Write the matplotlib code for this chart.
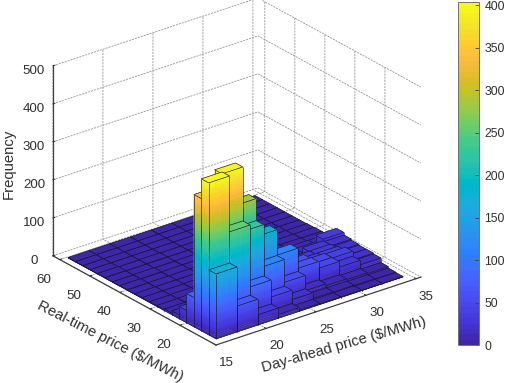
import numpy as np
import matplotlib
matplotlib.use("Agg")
import matplotlib.pyplot as plt
from matplotlib.colors import ListedColormap, Normalize
from matplotlib.cm import ScalarMappable
from mpl_toolkits.mplot3d import proj3d
from mpl_toolkits.mplot3d.art3d import Poly3DCollection, Line3DCollection

plt.rcParams['font.family'] = ['Liberation Sans', 'DejaVu Sans']

# Frequency per bin: one row per day-ahead bin, one column per real-time bin
freq_da_0 = [171, 400, 348, 77, 32, 10, 4, 3, 2, 2, 2, 1, 2, 1, 1, 2, 1, 1, 1, 1]
freq_da_1 = [68, 253, 395, 180, 40, 12, 6, 4, 3, 2, 2, 2, 1, 2, 1, 1, 1, 1, 1, 1]
freq_da_2 = [27, 90, 225, 283, 60, 15, 8, 5, 3, 3, 2, 2, 2, 1, 1, 2, 1, 1, 1, 1]
freq_da_3 = [10, 45, 115, 183, 70, 20, 8, 6, 4, 3, 3, 2, 2, 2, 1, 1, 1, 1, 1, 1]
freq_da_4 = [3, 20, 55, 116, 50, 25, 12, 8, 5, 4, 3, 2, 2, 1, 2, 1, 1, 1, 1, 1]
freq_da_5 = [2, 5, 15, 63, 60, 40, 20, 10, 7, 5, 3, 3, 2, 2, 1, 1, 1, 1, 1, 1]
freq_da_6 = [2, 4, 10, 45, 45, 35, 30, 12, 10, 5, 4, 3, 2, 1, 2, 1, 1, 1, 1, 1]
freq_da_7 = [1, 3, 8, 30, 43, 35, 30, 28, 15, 8, 4, 3, 2, 2, 1, 1, 1, 1, 1, 1]
freq_da_8 = [1, 2, 6, 18, 20, 20, 22, 25, 32, 8, 3, 3, 2, 1, 1, 1, 1, 1, 1, 1]
freq = np.array([freq_da_0, freq_da_1, freq_da_2, freq_da_3, freq_da_4,
                 freq_da_5, freq_da_6, freq_da_7, freq_da_8], dtype=float)

da_edges = np.linspace(15.7, 34.4, 10)
rt_edges = np.linspace(10.3, 59.6, 21)
da_ticks = [15, 20, 25, 30, 35]
rt_ticks = [20, 30, 40, 50, 60]
z_ticks = [0, 100, 200, 300, 400, 500]
cbar_ticks = [0, 50, 100, 150, 200, 250, 300, 350, 400]

parula = ListedColormap([
 (0.2422,0.1504,0.6603),(0.2504,0.1650,0.7076),(0.2578,0.1818,0.7511),(0.2647,0.1978,0.7952),
 (0.2706,0.2147,0.8364),(0.2751,0.2342,0.8710),(0.2783,0.2559,0.8991),(0.2803,0.2782,0.9221),
 (0.2813,0.3006,0.9414),(0.2810,0.3228,0.9579),(0.2795,0.3447,0.9717),(0.2760,0.3667,0.9829),
 (0.2699,0.3892,0.9906),(0.2602,0.4123,0.9952),(0.2440,0.4358,0.9988),(0.2206,0.4603,0.9973),
 (0.1963,0.4847,0.9892),(0.1834,0.5074,0.9798),(0.1786,0.5289,0.9682),(0.1764,0.5499,0.9520),
 (0.1687,0.5703,0.9359),(0.1540,0.5902,0.9218),(0.1460,0.6091,0.9079),(0.1380,0.6276,0.8973),
 (0.1248,0.6459,0.8883),(0.1113,0.6635,0.8763),(0.0952,0.6798,0.8598),(0.0689,0.6948,0.8394),
 (0.0297,0.7082,0.8163),(0.0036,0.7203,0.7917),(0.0067,0.7312,0.7660),(0.0433,0.7411,0.7394),
 (0.0964,0.7500,0.7120),(0.1408,0.7584,0.6842),(0.1717,0.7670,0.6554),(0.1938,0.7758,0.6251),
 (0.2161,0.7843,0.5923),(0.2470,0.7918,0.5567),(0.2906,0.7973,0.5188),(0.3406,0.8008,0.4789),
 (0.3909,0.8029,0.4354),(0.4456,0.8024,0.3909),(0.5044,0.7993,0.3480),(0.5616,0.7942,0.3045),
 (0.6174,0.7876,0.2612),(0.6720,0.7793,0.2227),(0.7242,0.7698,0.1910),(0.7738,0.7598,0.1646),
 (0.8203,0.7498,0.1535),(0.8634,0.7406,0.1596),(0.9035,0.7330,0.1774),(0.9393,0.7288,0.2100),
 (0.9728,0.7298,0.2394),(0.9956,0.7434,0.2371),(0.9970,0.7659,0.2199),(0.9952,0.7861,0.1999),
 (0.9892,0.8135,0.1885),(0.9786,0.8386,0.1766),(0.9676,0.8639,0.1643),(0.9610,0.8890,0.1537),
 (0.9597,0.9135,0.1423),(0.9628,0.9373,0.1265),(0.9691,0.9606,0.1064),(0.9769,0.9839,0.0805)])
norm = Normalize(0, 404)

W, H = 505, 383
TXT = '#303030'
fig = plt.figure(figsize=(W/100, H/100), dpi=100, facecolor='white')
ax = fig.add_axes([0, 0, 1, 1], projection='3d', proj_type='ortho', computed_zorder=False)
ax.patch.set_alpha(0)
ax.view_init(elev=25.2, azim=-127.9)
ax.set_box_aspect((259.8, 265.5, 210))
ax.set_xlim(15, 35.5)
ax.set_ylim(8, 62.3)
ax.set_zlim(0, 500)


def px(x, y, z):
    a, b, _ = proj3d.proj_transform(x, y, z, ax.get_proj())
    return ax.transData.transform((a, b))


# Fit the orthographic box to the reference: front corner and horizontal span
S = 383.0
cx, cy = W/2, H/2
for _ in range(3):
    ax.set_position([(cx-S/2)/W, (cy-S/2)/H, S/W, S/H])
    ax.apply_aspect()
    fig.canvas.draw()
    F = px(15, 8, 0)
    R = px(35.5, 8, 0)
    L = px(15, 62.3, 0)
    S *= (421-53)/(R[0]-L[0])
    ax.set_position([(cx-S/2)/W, (cy-S/2)/H, S/W, S/H])
    ax.apply_aspect()
    F = px(15, 8, 0)
    cx += 216-F[0]
    cy += (H-345)-F[1]
ax.set_position([(cx-S/2)/W, (cy-S/2)/H, S/W, S/H])

# Walls and grid
for axis in (ax.xaxis, ax.yaxis, ax.zaxis):
    axis.set_pane_color((1, 1, 1, 0))
    axis.pane.set_edgecolor((1, 1, 1, 0))
    axis.line.set_color('#404040')
    axis.line.set_linewidth(0.9)
    axis._axinfo['grid'].update(color='#959595', linewidth=0.6, linestyle=(0, (2.5, 1.2)))
    axis._axinfo['tick'].update(inward_factor=0.0, outward_factor=0.12)
    axis._axinfo['tick']['linewidth'] = {True: 0.7, False: 0.5}
ax.set_xticks(da_ticks)
ax.set_yticks(rt_ticks)
ax.set_zticks(z_ticks)
ax.tick_params(axis='x', labelsize=9.6, colors=TXT, pad=2)
ax.tick_params(axis='y', labelsize=9.6, colors=TXT, pad=4)
ax.tick_params(axis='z', labelsize=9.6, colors=TXT, pad=0)
for lbl in ax.xaxis.get_ticklabels():
    lbl.set_va('center')
for lbl in ax.yaxis.get_ticklabels():
    lbl.set_va('center')


def label(text, x_px, y_px, angle):
    fig.text(x_px/W, 1-y_px/H, text, fontsize=10.7, color=TXT, rotation=angle,
             ha='center', va='center', rotation_mode='anchor')


label('Day-ahead price ($/MWh)', 344, 345, 16)
label('Real-time price ($/MWh)', 110, 341, -27)
label('Frequency', 9, 164, 90)

# Bars, back to front
EDGE = '#14142a'
order = 10
for i in range(freq.shape[0]-1, -1, -1):
    for j in range(freq.shape[1]-1, -1, -1):
        x0, x1 = da_edges[i], da_edges[i+1]
        y0, y1 = rt_edges[j], rt_edges[j+1]
        h = freq[i, j]
        levels = np.linspace(0, h, max(2, int(np.ceil(h/5)))+1)
        polys, cols = [], []
        for a, b in zip(levels[:-1], levels[1:]):
            c = parula(norm((a+b)/2))
            polys.append([(x0, y0, a), (x1, y0, a), (x1, y0, b), (x0, y0, b)])
            cols.append(c)
            polys.append([(x0, y0, a), (x0, y1, a), (x0, y1, b), (x0, y0, b)])
            cols.append(c)
        polys.append([(x0, y0, h), (x1, y0, h), (x1, y1, h), (x0, y1, h)])
        cols.append(parula(norm(h)))
        pc = Poly3DCollection(polys, facecolors=cols, edgecolors=cols, linewidths=0.3)
        pc.set_zorder(order)
        ax.add_collection3d(pc, autolim=False)
        segs = [[(x0, y0, h), (x1, y0, h)], [(x1, y0, h), (x1, y1, h)],
                [(x1, y1, h), (x0, y1, h)], [(x0, y1, h), (x0, y0, h)],
                [(x0, y0, 0), (x0, y0, h)], [(x1, y0, 0), (x1, y0, h)],
                [(x0, y1, 0), (x0, y1, h)],
                [(x0, y0, 0), (x1, y0, 0)], [(x0, y0, 0), (x0, y1, 0)]]
        lc = Line3DCollection(segs, colors=EDGE, linewidths=0.45)
        lc.set_zorder(order+1)
        ax.add_collection3d(lc, autolim=False)
        order += 2
ax.set_xlim(15, 35.5)
ax.set_ylim(8, 62.3)
ax.set_zlim(0, 500)

# Colour bar
cax = fig.add_axes([458/W, (H-345)/H, 21/W, 343/H])
cb = fig.colorbar(ScalarMappable(norm=norm, cmap=parula), cax=cax)
cb.set_ticks(cbar_ticks)
cb.ax.tick_params(direction='in', length=3, width=0.6, color='#404040',
                  labelsize=8.8, labelcolor=TXT, pad=4)
cb.outline.set_edgecolor('#707070')
cb.outline.set_linewidth(0.7)

fig.savefig('out.png', dpi=100)
